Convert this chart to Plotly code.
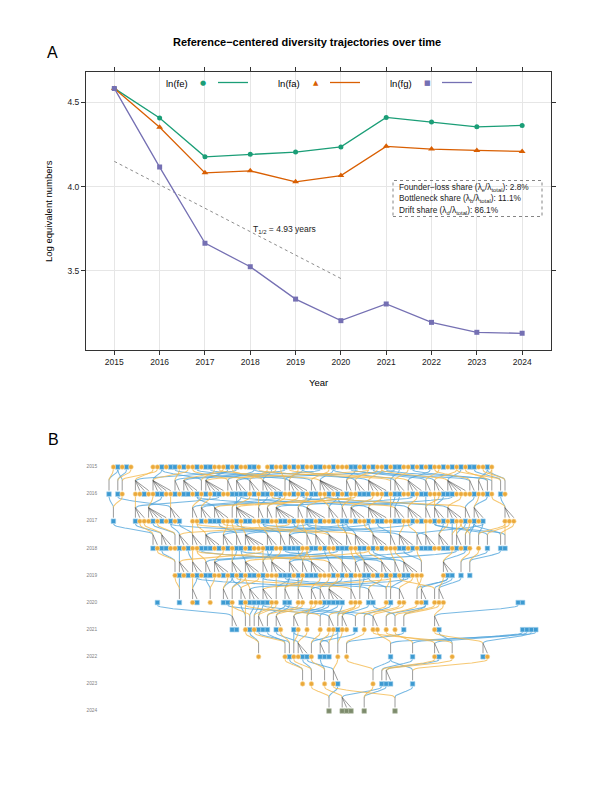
import numpy as np
import plotly.graph_objects as go

W, H = 612, 792
OFF = 8  # page offset of the figure inside the browser page
FONT = "Liberation Sans, Arial, Helvetica, sans-serif"

# ---------------- Panel A data ----------------
years = [2015, 2016, 2017, 2018, 2019, 2020, 2021, 2022, 2023, 2024]
ln_fe = [4.583, 4.407, 4.177, 4.193, 4.205, 4.236, 4.411, 4.383, 4.355, 4.363]
ln_fa = [4.583, 4.352, 4.082, 4.094, 4.029, 4.066, 4.239, 4.223, 4.215, 4.209]
ln_fg = [4.583, 4.116, 3.665, 3.525, 3.333, 3.205, 3.304, 3.195, 3.136, 3.130]
series_names = ["ln(fe)", "ln(fa)", "ln(fg)"]
trend_years = [2015, 2020]
trend_values = [4.150, 3.455]
y_ticks = [3.5, 4.0, 4.5]
y_ticktext = ["3.5", "4.0", "4.5"]
title_text = "Reference\u2212centered diversity trajectories over time"
halflife_text = "T<sub>1/2</sub> = 4.93 years"
share_texts = [
    "Founder\u2212loss share (\u03bb<sub>e</sub>/\u03bb<sub>total</sub>): 2.8%",
    "Bottleneck share (\u03bb<sub>b</sub>/\u03bb<sub>total</sub>): 11.1%",
    "Drift share (\u03bb<sub>d</sub>/\u03bb<sub>total</sub>): 86.1%",
]

# ---------------- Panel B data (pedigree) ----------------
# token: sexes per slot (m/f/u, '.' = empty slot), '@father_slot,mother_slot' in previous row
# '~n' = n empty slots; tokens without '@' have no recorded parents
ped_years = [2015, 2016, 2017, 2018, 2019, 2020, 2021, 2022, 2023, 2024]
ped_2015 = ("~1 fmfmf ~4 ffmfmmfmff mfmmfffmfm ffmmf.fmff mfmfmffmmf "
            "fmfffmmfmf mffmfmmffm fmfmffmfmf mfmmffmf")
ped_2016 = ("m.@2,1 m@4,5 f..@2,12 ffmf@30,10 fmmff@12,18 mf@40,15 mmfm@48,26 f@11,24 "
            "mfmmf@27,60 fm@33,19 mmm@65,38 fmf@15,36 mmfmm@37,28 f@45,40 fmfmf@20,44 "
            "mm@25,50 ffmfmf@52,25 mf@57,61 fmm@44,59 mfffm@33,62 f@66,34 mmf@50,68 "
            "fmfm@73,42 mf@56,76 ffm@60,80 mmfff@81,62 fm@55,74 ff@86,87 m@70,82 "
            "f.@64,87 m@83,79 f@87,85")
ped_2017 = (".m@0,3 ~4 mff@25,6 fmfmf@12,10 mfm@2,14 ~2 ff@40,21 mfm@50,24 mmff@20,58 "
            "f@30,32 mfmmf@29,55 fm@36,34 mf@39,40 fmmfm@70,43 ff@46,45 mmfmf@20,49 "
            "fmf@52,48 mm@53,55 fmff@80,60 mfmmf@30,62 f@65,64 mmf@66,38 fmfm@45,70 "
            "ff@73,75 mfm@76,74 fmff@50,80 mf@83,50 mfm@86,84 ~4 fff@89,87")
ped_2018 = ("~10 mf@1,7 mmf@6,8 f@9,12 mfm@14,40 ffm@16,19 mmfm@45,20 fmf@55,27 "
            "mm@25,28 fmfff@60,31 mmf@30,34 fm@35,39 mmmf@70,43 fm@42,44 mfm@15,47 "
            "ffmm@45,20 mf@53,52 fmmf@54,25 mfmf@60,58 ff@61,64 mmfm@35,67 fm@85,68 "
            "mmf@44,72 fmm@76,77 f@78,80 mf@81,79 m@83,82 f@84,80 ~1 f@85,90 ~1 "
            "m@74,91 ~2 m@83,92 m@75,90")
ped_2019 = ("~15 f@12,11 mfm@16,35 fmf@18,19 mm@45,20 ffmf@52,26 mfm@29,28 fmmf@30,60 "
            "mf@37,35 ffmm@36,39 mfm@70,44 fm@43,45 mmff@20,46 fmf@49,22 mfm@53,50 "
            "ff@80,55 mmfm@57,56 fmf@30,59 mf@61,64 mmff@40,65 f@68,71 ~4 fmm@81,78 "
            "~1 m@86,82 ~1 m@89,84")
ped_2020 = ("~11 m ~4 m@17,15 ~2 fm@20,19 ~2 f@22,24 ~2 mm@28,27 f.@30,31 mf@29,34 "
            "mmm@60,32 mmf@36,65 f@41,39 .mm@42,44 .ff@43,45 .ff@70,48 fm@20,50 "
            "mmmm@53,52 .ff@55,30 f.@58,57 mm@35,62 ..f@59,64 m.@67,65 ff@40,69 "
            "..f@77,71 fm@76,70 .f@78,66 ff@80,75 ~16 mm")
ped_2021 = ("~28 mm@11,28 ~1 f@30,31 m@33,28 f@34,37 mm@35,38 m@40,43 ~1 mf@41,44 ~2 "
            "mf@49,47 ~1 f@50,46 ~2 f@52,30 ~1 ff@27,56 m@53,57 ff@59,56 ~1 m@35,63 "
            "~1 f@64,66 ~1 ff@40,67 ~1 f@72,70 ~1 f@60,74 ~1 m@72,75 ~6 fm@93,76 "
            "~18 mmmm")
ped_2022 = ("~34 f@32,31 ~5 f@36,33 m@34,39 f@42,43 fmm@38,45 f@52,48 ~1 mm@56,50 "
            "m@42,51 ~1 f@52,53 ~1 f@67,58 ~9 m@97,61 ~4 m@94,65 ~4 fm@95,63 ~2 "
            "f@74,60 ~6 mf@96,74")
ped_2023 = ("~44 f@41,40 ~1 f@44,42 ~2 f@48,46 ~1 fm@45,52 ~7 f@64,54 ~1 m@69,74 "
            "mm@75,78 ~4 m@64,86")
ped_2024 = "~50 u@52,46 ~2 uuu@62,49 ~2 u@63,60 ~6 u@69,51"
ped_specs = [ped_2015, ped_2016, ped_2017, ped_2018, ped_2019,
             ped_2020, ped_2021, ped_2022, ped_2023, ped_2024]

# ---------------- colours ----------------
C_FE, C_FA, C_FG = "#1b9e77", "#d95f02", "#7570b3"
C_MALE, C_FEMALE, C_UNK = "#3d9ad1", "#eba93b", "#7d8b6c"
C_LINK_M, C_LINK_F = "rgba(86,168,220,0.8)", "rgba(244,186,80,0.8)"


def px(x):
    return (x - OFF) / W


def py(y):
    return 1 - (y - OFF) / H


def parse_row(spec):
    nodes, fams, slot = [], [], 0
    for tok in spec.split():
        if tok.startswith("~"):
            slot += int(tok[1:])
            continue
        body, _, par = tok.partition("@")
        parents = tuple(int(v) for v in par.split(",")) if par else None
        members = []
        for ch in body:
            if ch != ".":
                nodes.append((slot, ch))
                members.append(len(nodes) - 1)
            slot += 1
        if members:
            fams.append((members, parents))
    return nodes, fams


def nearest(nodes, target, sex):
    cands = [s for s, c in nodes if c == sex]
    return min(cands, key=lambda s: abs(s - target))


parsed = [parse_row(s) for s in ped_specs]

link = {"m": ([], []), "f": ([], [])}
fan_x, fan_y = [], []
t = np.linspace(0, 1, 18)
for i, yr in enumerate(ped_years):
    nodes, fams = parsed[i]
    if i == 0:
        continue
    prev_nodes = parsed[i - 1][0]
    for members, parents in fams:
        if parents is None:
            continue
        cs = [nodes[k][0] for k in members]
        xj, yj = cs[0], yr - 0.5
        for c in cs:
            fan_x += [xj, c, None]
            fan_y += [yj, yr - 0.13, None]
        for sex, target in zip("mf", parents):
            xp = nearest(prev_nodes, target, sex)
            yp = ped_years[i - 1] + 0.1
            dy = yj - yp
            p = [(xp, yp), (xp, yp + 0.45 * dy), (xj, yj - 0.45 * dy), (xj, yj)]
            bx = ((1 - t) ** 3) * p[0][0] + 3 * ((1 - t) ** 2) * t * p[1][0] \
                + 3 * (1 - t) * t ** 2 * p[2][0] + t ** 3 * p[3][0]
            by = ((1 - t) ** 3) * p[0][1] + 3 * ((1 - t) ** 2) * t * p[1][1] \
                + 3 * (1 - t) * t ** 2 * p[2][1] + t ** 3 * p[3][1]
            link[sex][0].extend(list(bx) + [None])
            link[sex][1].extend(list(by) + [None])

fig = go.Figure()

# ---------------- Panel A traces ----------------
fig.add_trace(go.Scatter(x=trend_years, y=trend_values, mode="lines",
                         line=dict(color="#8c8c8c", width=1, dash="dot"),
                         hoverinfo="skip", xaxis="x", yaxis="y"))
for vals, col, sym, sz in [(ln_fe, C_FE, "circle", 5), (ln_fa, C_FA, "triangle-up", 6),
                           (ln_fg, C_FG, "square", 5)]:
    fig.add_trace(go.Scatter(x=years, y=vals, mode="lines+markers",
                             line=dict(color=col, width=1.3),
                             marker=dict(color=col, symbol=sym, size=sz),
                             xaxis="x", yaxis="y"))

# ---------------- Panel B traces ----------------
for sex, col in [("m", C_LINK_M), ("f", C_LINK_F)]:
    fig.add_trace(go.Scatter(x=link[sex][0], y=link[sex][1], mode="lines",
                             line=dict(color=col, width=1.05), hoverinfo="skip",
                             xaxis="x2", yaxis="y2"))
fig.add_trace(go.Scatter(x=fan_x, y=fan_y, mode="lines",
                         line=dict(color="rgba(75,75,75,0.75)", width=0.75),
                         hoverinfo="skip", xaxis="x2", yaxis="y2"))
for sex, col, sym, edge in [("m", C_MALE, "square", "#a6d4ef"),
                            ("f", C_FEMALE, "circle", "#f7d795"),
                            ("u", C_UNK, "square", "#b4bfa6")]:
    xs, ys = [], []
    for i, yr in enumerate(ped_years):
        for s, c in parsed[i][0]:
            if c == sex:
                xs.append(s)
                ys.append(yr)
    fig.add_trace(go.Scatter(x=xs, y=ys, mode="markers",
                             marker=dict(color=col, symbol=sym, size=4.6,
                                         line=dict(color=edge, width=0.6)),
                             xaxis="x2", yaxis="y2"))
fig.add_trace(go.Scatter(x=[-3.9] * len(ped_years), y=ped_years, mode="text",
                         text=[str(y) for y in ped_years],
                         textfont=dict(size=4.8, color="#808080", family=FONT),
                         xaxis="x2", yaxis="y2"))


# ---------------- annotations & shapes ----------------
def note(x, y, text, size, color="black", xanchor="center", **kw):
    return dict(x=px(x), y=py(y), text=text, showarrow=False, xref="paper", yref="paper",
                xanchor=xanchor, yanchor="middle",
                font=dict(size=size, color=color, family=kw.pop("family", FONT)), **kw)


ann = [
    note(52, 52, "A", 16),
    note(53, 440, "B", 16),
    note(306.5, 42, "<b>" + title_text + "</b>", 11),
    note(318.5, 382.5, "Year", 9.5),
    note(49, 211, "Log equivalent numbers", 9.5, textangle=-90),
    note(284.5, 230, halflife_text, 8.5, color="#222"),
]
for txt, yy in zip(share_texts, [187.5, 199, 210.5]):
    ann.append(note(397, yy, txt, 8.3, color="#222", xanchor="left"))
shapes = [dict(type="rect", xref="paper", yref="paper", x0=px(393), x1=px(542),
               y0=py(216.5), y1=py(180.5), line=dict(color="#777", width=0.9, dash="dot"))]
leg = [(series_names[0], C_FE, "\u25cf", 176.5, 203.3, 218, 248),
       (series_names[1], C_FA, "\u25b2", 288.7, 315.7, 330, 360),
       (series_names[2], C_FG, "\u25a0", 401, 427.3, 442, 472)]
for name, col, glyph, tx, mx, l0, l1 in leg:
    ann.append(note(tx, 83, name, 9.5))
    ann.append(note(mx, 82.5, glyph, 7, color=col, family="DejaVu Sans"))
    shapes.append(dict(type="line", xref="paper", yref="paper", x0=px(l0), x1=px(l1),
                       y0=py(82.5), y1=py(82.5), line=dict(color=col, width=1.3)))

axis_common = dict(showline=True, linecolor="#333", linewidth=1, mirror="ticks",
                   ticks="outside", ticklen=4, tickcolor="#333", tickwidth=1,
                   showgrid=True, gridcolor="#e6e6e6", gridwidth=1, zeroline=False,
                   tickfont=dict(size=8.5, color="#1a1a1a", family=FONT))

fig.update_layout(
    width=W, height=H, margin=dict(l=0, r=0, t=0, b=0),
    paper_bgcolor="white", plot_bgcolor="white", showlegend=False, hovermode=False,
    font=dict(family=FONT),
    xaxis=dict(domain=[px(86), px(550.7)], range=[2014.375, 2024.63], tickvals=years,
               anchor="y", **axis_common),
    yaxis=dict(domain=[py(350), py(71.7)], range=[3.031, 4.682], tickvals=y_ticks,
               ticktext=y_ticktext, anchor="x", **axis_common),
    xaxis2=dict(domain=[0, 1], range=[-(109 - OFF) / 4.4, (W - 109 + OFF) / 4.4],
                visible=False, anchor="y2"),
    yaxis2=dict(domain=[0, 1 - (450 - OFF) / H],
                range=[2015 + (H + OFF - 467) / 27.11, 2015 - (467 - 450) / 27.11],
                visible=False, anchor="x2"),
    annotations=ann, shapes=shapes,
)

fig.write_html("out.html")
